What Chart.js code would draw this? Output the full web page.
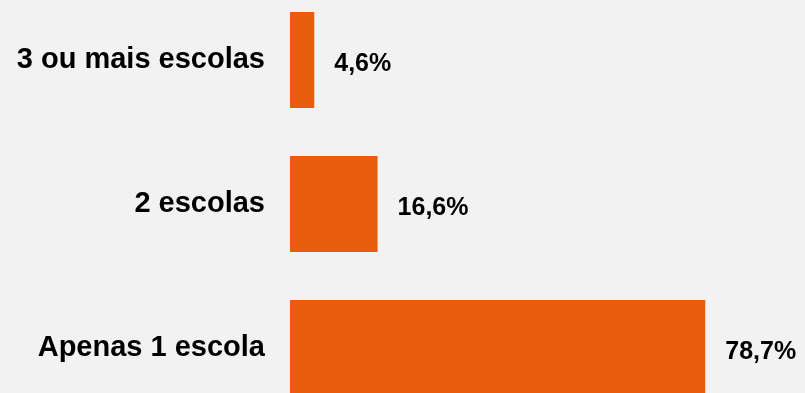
<!DOCTYPE html>
<html>
<head>
<meta charset="utf-8">
<script src="https://cdn.jsdelivr.net/npm/chart.js@4/dist/chart.umd.min.js"></script>
<style>
  html, body { margin: 0; padding: 0; background: #f2f2f2; overflow: hidden; }
  #wrap { position: absolute; left: 0; top: -12px; width: 805px; height: 432px; }
</style>
</head>
<body>
<div id="wrap"><canvas id="myChart" width="805" height="432"></canvas></div>
<script>
const categories = ['3 ou mais escolas', '2 escolas', 'Apenas 1 escola'];
const percentages = [4.6, 16.6, 78.7];

// writes the value next to each bar, using the bar positions from the scales
const valueLabels = {
    id: 'valueLabels',
    afterDatasetsDraw(chart) {
        const ctx = chart.ctx;
        const meta = chart.getDatasetMeta(0);
        ctx.save();
        ctx.font = 'bold 25px "Liberation Sans", Arial, sans-serif';
        ctx.fillStyle = '#000000';
        ctx.textAlign = 'left';
        ctx.textBaseline = 'middle';
        meta.data.forEach((bar, i) => {
            const txt = percentages[i].toFixed(1).replace('.', ',') + '%';
            ctx.fillText(txt, bar.x + 20, bar.y + 4);
        });
        ctx.restore();
    }
};

const ctx = document.getElementById('myChart').getContext('2d');

const myChart = new Chart(ctx, {
    type: 'bar',
    data: {
        labels: categories,
        datasets: [{
            data: percentages,
            backgroundColor: '#e95c0e',
            borderWidth: 0,
            categoryPercentage: 1,
            barPercentage: 0.667
        }]
    },
    options: {
        indexAxis: 'y',
        responsive: false,
        animation: false,
        layout: { padding: 0 },
        plugins: {
            legend: { display: false },
            tooltip: { enabled: false }
        },
        scales: {
            x: {
                display: false,
                min: 0,
                max: 97.6
            },
            y: {
                grid: { display: false, drawTicks: false },
                border: { display: false },
                ticks: {
                    padding: 25,
                    color: '#000000',
                    font: { family: '"Liberation Sans", Arial, sans-serif', size: 29, weight: 'bold' }
                },
                afterFit(scale) {
                    scale.width = 290;
                    scale.paddingTop = 0;
                    scale.paddingBottom = 0;
                }
            }
        }
    },
    plugins: [valueLabels]
});
</script>
</body>
</html>
